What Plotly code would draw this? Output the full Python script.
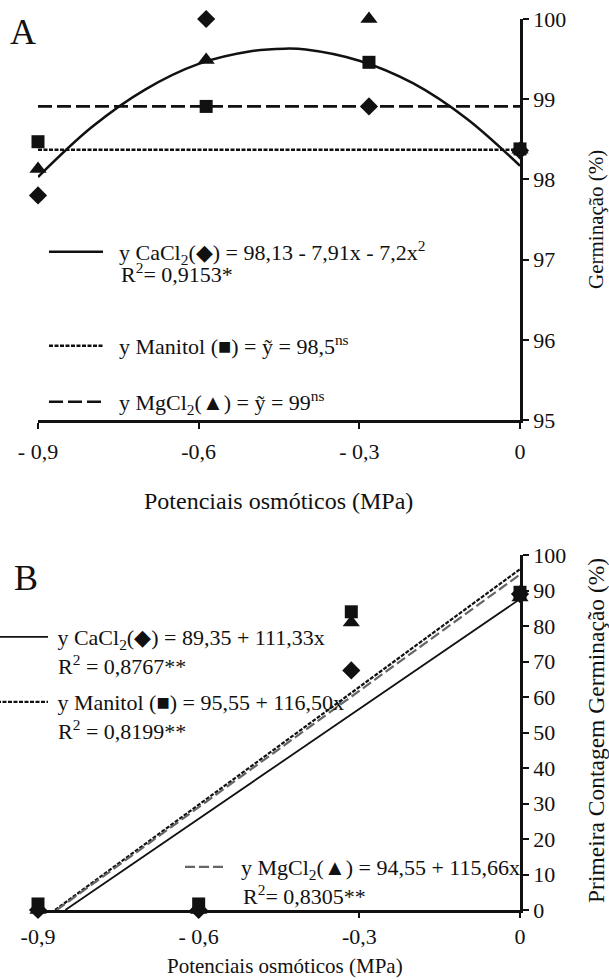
import plotly.graph_objects as go

W, H = 609, 980

# ---------------- Panel A data ----------------
pot_a = [-0.9, -0.586, -0.282, 0.0]
cacl2_a = [97.8, 100.0, 98.91, 98.36]
manitol_a = [98.47, 98.91, 99.46, 98.38]
mgcl2_a = [98.13, 99.49, 100.0, 98.37]

curve_x_a = [-0.9, -0.8, -0.7, -0.6, -0.5, -0.44, -0.4, -0.3, -0.2, -0.1, 0.0]
curve_cacl2_a = [98.03, 98.65, 99.12, 99.44, 99.60, 99.63, 99.62, 99.48, 99.20, 98.76, 98.17]

mean_x_a = [-0.9, 0.0]
mean_manitol_a = [98.37, 98.37]
mean_mgcl2_a = [98.91, 98.91]

ticks_x = [-0.9, -0.6, -0.3, 0.0]
ticktext_a = ["- 0,9", "-0,6", "- 0,3", "0"]
ticktext_b = ["-0,9", "- 0,6", "-0,3", "0"]

# ---------------- Panel B data ----------------
pot_b = [-0.9, -0.6, -0.315, 0.0]
cacl2_b = [0.0, 0.0, 67.5, 89.0]
manitol_b = [1.7, 1.7, 84.0, 89.5]
mgcl2_b = [0.0, 0.0, 81.0, 88.0]

reg_x_cacl2_b = [-0.849, 0.0]
reg_cacl2_b = [0.0, 87.6]
reg_x_manitol_b = [-0.868, 0.0]
reg_manitol_b = [0.0, 96.0]
reg_x_mgcl2_b = [-0.865, 0.0]
reg_mgcl2_b = [0.0, 94.5]

FONT = "Liberation Serif"
BLACK = "#111111"
ESP = "\u2002"
TSP = "\u2009"

def py(px):
    return 1 - px / H

def pxx(px):
    return px / W

L, R = 38, 520

fig = go.Figure()

# ---- Panel A lines ----
fig.add_trace(go.Scatter(x=curve_x_a, y=curve_cacl2_a, mode="lines", line=dict(color=BLACK, width=2.5, shape="spline"),
                         name=ESP + "y CaCl<sub>2</sub>(◆) = 98,13 - 7,91x - 7,2x<sup>2</sup>", legend="legend", xaxis="x", yaxis="y"))
fig.add_trace(go.Scatter(x=mean_x_a, y=mean_manitol_a, mode="lines", line=dict(color=BLACK, width=2.6, dash="4px,1.5px"),
                         name=ESP + "y Manitol (■) = ỹ = 98,5<sup>ns</sup>", legend="legend2", xaxis="x", yaxis="y"))
fig.add_trace(go.Scatter(x=mean_x_a, y=mean_mgcl2_a, mode="lines", line=dict(color=BLACK, width=2.6, dash="14px,5px"),
                         name=ESP + "y MgCl<sub>2</sub>(▲) = ỹ = 99<sup>ns</sup>", legend="legend3", xaxis="x", yaxis="y"))

# ---- Panel A markers ----
mk = dict(color=BLACK)
fig.add_trace(go.Scatter(x=pot_a, y=cacl2_a, mode="markers", marker=dict(symbol="diamond", size=14, **mk),
                         showlegend=False, cliponaxis=False, xaxis="x", yaxis="y"))
fig.add_trace(go.Scatter(x=pot_a, y=manitol_a, mode="markers", marker=dict(symbol="square", size=13, **mk),
                         showlegend=False, cliponaxis=False, xaxis="x", yaxis="y"))
fig.add_trace(go.Scatter(x=pot_a, y=mgcl2_a, mode="markers", marker=dict(symbol="triangle-up", size=15, **mk),
                         showlegend=False, cliponaxis=False, xaxis="x", yaxis="y"))

# ---- Panel B lines ----
fig.add_trace(go.Scatter(x=reg_x_cacl2_b, y=reg_cacl2_b, mode="lines", line=dict(color=BLACK, width=1.8),
                         name=TSP + "y CaCl<sub>2</sub>(◆) = 89,35 + 111,33x", legend="legend4", xaxis="x2", yaxis="y2"))
fig.add_trace(go.Scatter(x=reg_x_manitol_b, y=reg_manitol_b, mode="lines", line=dict(color=BLACK, width=2.2, dash="4px,1.5px"),
                         name=TSP + "y Manitol (■) = 95,55 + 116,50x", legend="legend5", xaxis="x2", yaxis="y2"))
fig.add_trace(go.Scatter(x=reg_x_mgcl2_b, y=reg_mgcl2_b, mode="lines", line=dict(color="#666666", width=2.2, dash="10px,4px"),
                         name=ESP + "y MgCl<sub>2</sub>(▲) = 94,55 + 115,66x", legend="legend6", xaxis="x2", yaxis="y2"))

# ---- Panel B markers ----
fig.add_trace(go.Scatter(x=pot_b, y=cacl2_b, mode="markers", marker=dict(symbol="diamond", size=14, **mk),
                         showlegend=False, cliponaxis=False, xaxis="x2", yaxis="y2"))
fig.add_trace(go.Scatter(x=pot_b, y=mgcl2_b, mode="markers", marker=dict(symbol="triangle-up", size=15, **mk),
                         showlegend=False, cliponaxis=False, xaxis="x2", yaxis="y2"))
fig.add_trace(go.Scatter(x=pot_b, y=manitol_b, mode="markers", marker=dict(symbol="square", size=13, **mk),
                         showlegend=False, cliponaxis=False, xaxis="x2", yaxis="y2"))

axis_common = dict(showline=True, linecolor=BLACK, linewidth=2.5, ticks="outside", tickwidth=2,
                   tickcolor=BLACK, showgrid=False, zeroline=False, automargin=False,
                   tickfont=dict(family=FONT, size=22, color=BLACK))

def legend_cfg(x, y, size=22, iw=54):
    return dict(x=pxx(x), y=py(y), xanchor="left", yanchor="middle", bgcolor="rgba(0,0,0,0)",
                font=dict(family=FONT, size=size, color=BLACK), itemwidth=iw, borderwidth=0,
                orientation="v", tracegroupgap=0)

fig.update_layout(
    width=W, height=H,
    margin=dict(l=0, r=0, t=0, b=0, autoexpand=False),
    paper_bgcolor="white", plot_bgcolor="white",
    font=dict(family=FONT, color=BLACK),
    xaxis=dict(domain=[pxx(L), pxx(R)], range=[-0.9, 0], tickvals=ticks_x, ticktext=ticktext_a, anchor="y",
               ticklen=6, ticklabelstandoff=4, **axis_common),
    yaxis=dict(domain=[py(420), py(19)], range=[95, 100], dtick=1, side="right", anchor="x", ticklen=6, **axis_common),
    xaxis2=dict(domain=[pxx(L), pxx(R)], range=[-0.9, 0], tickvals=ticks_x, ticktext=ticktext_b, anchor="y2",
                ticklen=5, **axis_common),
    yaxis2=dict(domain=[py(910), py(555)], range=[0, 100], dtick=10, side="right", anchor="x2", ticklen=6, **axis_common),
    legend=legend_cfg(44, 252),
    legend2=legend_cfg(44, 346),
    legend3=legend_cfg(44, 402),
    legend4=legend_cfg(-8, 637, 22, 51),
    legend5=legend_cfg(-8, 702, 22, 51),
    legend6=legend_cfg(180, 867, 22, 40),
    showlegend=True,
)

annots = [
    dict(text="A", x=pxx(8), y=py(32), xanchor="left", yanchor="middle", font=dict(size=36)),
    dict(text="B", x=pxx(12), y=py(578), xanchor="left", yanchor="middle", font=dict(size=36)),
    dict(text="R<sup>2</sup>= 0,9153*", x=pxx(119), y=py(273), xanchor="left", yanchor="middle", font=dict(size=22)),
    dict(text="R<sup>2</sup> = 0,8767**", x=pxx(56), y=py(665), xanchor="left", yanchor="middle", font=dict(size=22)),
    dict(text="R<sup>2</sup> = 0,8199**", x=pxx(56), y=py(730), xanchor="left", yanchor="middle", font=dict(size=22)),
    dict(text="R<sup>2</sup>= 0,8305**", x=pxx(241), y=py(895), xanchor="left", yanchor="middle", font=dict(size=22)),
    dict(text="Potenciais osmóticos (MPa)", x=pxx(278), y=py(501), xanchor="center", yanchor="middle", font=dict(size=24)),
    dict(text="Potenciais osmóticos (MPa)", x=pxx(285), y=py(966), xanchor="center", yanchor="middle", font=dict(size=21)),
    dict(text="Germinação (%)", x=pxx(596), y=py(220), xanchor="center", yanchor="middle", textangle=-90, font=dict(size=21)),
    dict(text="Primeira Contagem Germinação (%)", x=pxx(596), y=py(731), xanchor="center", yanchor="middle", textangle=-90, font=dict(size=23.5)),
]
for a in annots:
    a.update(xref="paper", yref="paper", showarrow=False)
    a["font"].update(family=FONT, color=BLACK)
fig.update_layout(annotations=annots)

fig.write_html("out.html", config={"displayModeBar": False},
               post_script="document.body.style.margin='0px';")
